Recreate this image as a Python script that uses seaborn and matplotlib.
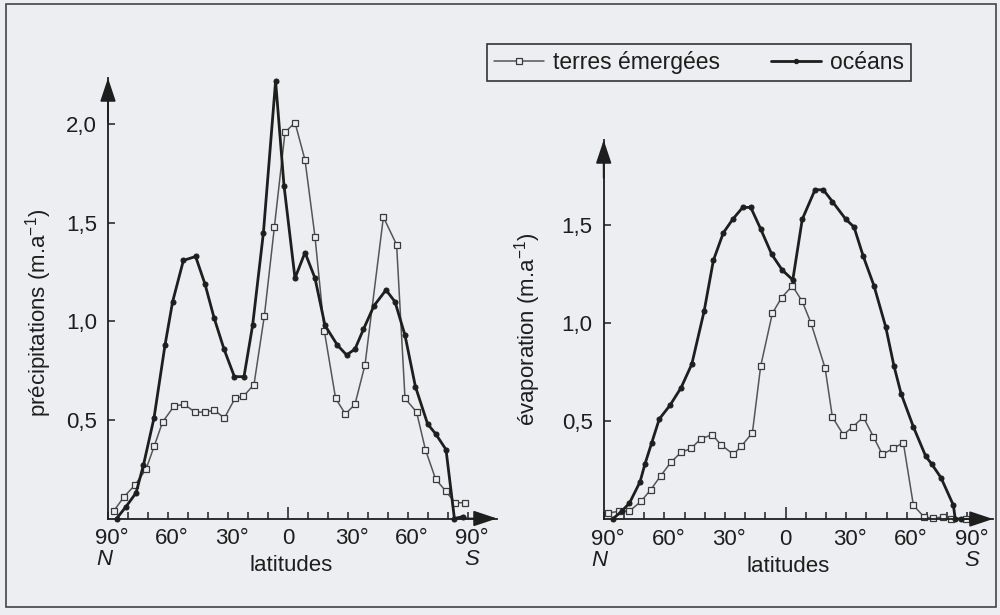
import numpy as np
import pandas as pd
import matplotlib
matplotlib.use("Agg")
import matplotlib.pyplot as plt
import matplotlib.transforms as mtransforms
from matplotlib.lines import Line2D
from matplotlib.patches import Rectangle
import seaborn as sns

# ---------------- data (latitude: negative = North, positive = South) ----------------
prec_land_lat = [-87, -82, -76.5, -71, -66.8, -62.7, -57, -52, -46.5, -41.5, -36.8, -31.8,
                 -26.5, -22.3, -17, -11.8, -6.8, -1.5, 3.5, 8.5, 13.5, 18.2, 23.8, 28.7,
                 33.5, 38.5, 47.7, 54.3, 58.5, 64.3, 68.7, 73.8, 78.8, 83.5, 88.7]
prec_land_val = [0.04, 0.11, 0.17, 0.25, 0.37, 0.49, 0.57, 0.58, 0.54, 0.54, 0.55, 0.51,
                 0.61, 0.62, 0.68, 1.03, 1.48, 1.96, 2.01, 1.82, 1.43, 0.95, 0.61, 0.53,
                 0.58, 0.78, 1.53, 1.39, 0.61, 0.54, 0.35, 0.20, 0.14, 0.08, 0.08]

prec_ocean_lat = [-85.7, -81, -76, -72.3, -67, -61.5, -57.7, -52.3, -46.2, -41.5, -37, -32,
                  -26.8, -22, -17.7, -12.3, -6.2, -2, 3.5, 8.5, 13.5, 18.5, 24.7, 29.3,
                  33.5, 37.7, 43, 49, 53.5, 58.5, 63.7, 69.8, 73.8, 79, 83.2, 87.7]
prec_ocean_val = [0.0, 0.06, 0.13, 0.27, 0.51, 0.88, 1.10, 1.31, 1.33, 1.19, 1.02, 0.86,
                  0.72, 0.72, 0.98, 1.45, 2.22, 1.69, 1.22, 1.35, 1.22, 0.98, 0.88, 0.83,
                  0.86, 0.96, 1.08, 1.16, 1.10, 0.93, 0.67, 0.48, 0.43, 0.35, 0.0, 0.01]

evap_land_lat = [-87.7, -82.4, -77.3, -71.5, -66.7, -61.8, -56.7, -51.7, -46.8, -41.8, -36.2,
                 -32.1, -25.8, -22, -16.4, -12.3, -6.5, -1.9, 3.4, 8.3, 12.6, 19.6, 23.2,
                 28.6, 33.3, 38.5, 43.5, 47.9, 53.4, 58.3, 63.3, 68.6, 73.2, 77.8, 82, 89.2]
evap_land_val = [0.03, 0.04, 0.04, 0.09, 0.15, 0.22, 0.29, 0.34, 0.36, 0.41, 0.43,
                 0.38, 0.33, 0.37, 0.44, 0.78, 1.05, 1.13, 1.19, 1.11, 1.00, 0.77, 0.52,
                 0.43, 0.47, 0.52, 0.42, 0.33, 0.36, 0.39, 0.07, 0.01, 0.005, 0.01, 0.0, 0.0]

evap_ocean_lat = [-85.5, -81.1, -77.3, -72, -69.6, -66.2, -62.5, -57.2, -51.7, -46.4, -40.3,
                  -35.7, -30.8, -26.1, -21.2, -17.2, -12.3, -6.8, -1.6, 3.6, 8.3, 14.6, 18.7,
                  23.2, 29.8, 33.9, 38.5, 43.8, 49.6, 53.7, 57.2, 63.3, 69.4, 72.4, 77,
                  83.1, 84, 87]
evap_ocean_val = [0.0, 0.04, 0.08, 0.19, 0.28, 0.39, 0.51, 0.58, 0.67, 0.79, 1.06,
                  1.32, 1.46, 1.53, 1.59, 1.59, 1.48, 1.35, 1.27, 1.22, 1.53, 1.68, 1.68,
                  1.62, 1.53, 1.49, 1.34, 1.19, 0.98, 0.78, 0.64, 0.47, 0.32, 0.28, 0.21,
                  0.07, 0.0, 0.0]

xtick_pos = [-90, -60, -30, 0, 30, 60, 90]
xtick_labels = ["90°", "60°", "30°", "0", "30°", "60°", "90°"]
prec_yticks = [0.5, 1.0, 1.5, 2.0]
evap_yticks = [0.5, 1.0, 1.5]
series_labels = ["terres émergées", "océans"]

# ---------------- style ----------------
sns.set_theme(style="white")
plt.rcParams["font.family"] = ["Liberation Sans", "DejaVu Sans"]
plt.rcParams["mathtext.default"] = "regular"
BG = "#eceef2"
INK = "#1e1e1e"
LAND = "#555555"

fig = plt.figure(figsize=(10, 6.15), dpi=100, facecolor=BG)


def px_axes(x0, x1, y_top, y_bot):
    return fig.add_axes([x0 / 1000, (615 - y_bot) / 615, (x1 - x0) / 1000, (y_bot - y_top) / 615])


axL = px_axes(108, 497, 78, 518.5)
axR = px_axes(603.7, 993, 140, 519)

land_kw = dict(color=LAND, lw=1.1, marker="s", markersize=4.6, markerfacecolor=BG,
               markeredgecolor="#3a3a3a", markeredgewidth=0.9, clip_on=False)
ocean_kw = dict(color=INK, lw=2.0, marker="o", markersize=3.6, markerfacecolor=INK,
                markeredgecolor=INK, clip_on=False)


def draw(ax, land_lat, land_val, ocean_lat, ocean_val, xmax, ymax, yticks, ylabel, lab_x, lab_y):
    ax.set_facecolor(BG)
    sns.lineplot(x=land_lat, y=land_val, ax=ax, sort=False, estimator=None, legend=False, **land_kw)
    sns.lineplot(x=ocean_lat, y=ocean_val, ax=ax, sort=False, estimator=None, legend=False, **ocean_kw)
    ax.set_xlim(-90, xmax)
    ax.set_ylim(0, ymax)
    for s in ["top", "right"]:
        ax.spines[s].set_visible(False)
    for s in ["left", "bottom"]:
        ax.spines[s].set_color(INK)
        ax.spines[s].set_linewidth(1.3)
    # ticks
    ax.set_xticks(xtick_pos)
    ax.set_xticklabels(xtick_labels)
    ax.set_xticks(np.arange(-90, 91, 10), minor=True)
    ax.tick_params(axis="x", which="both", direction="in", length=5, width=1.1, color=INK,
                   bottom=True, pad=7, labelsize=16, labelcolor=INK)
    ax.xaxis.get_major_ticks()[3].tick1line.set_markersize(9)
    ax.set_yticks(yticks)
    ax.set_yticklabels([f"{v:.1f}".replace(".", ",") for v in yticks])
    ax.tick_params(axis="y", which="both", direction="in", length=5, width=1.1, color=INK,
                   left=True, pad=8, labelsize=16, labelcolor=INK)
    for lbl in ax.get_xticklabels():
        if "°" in lbl.get_text():
            lbl.set_transform(lbl.get_transform() + mtransforms.ScaledTranslation(4 / 100, 0, fig.dpi_scale_trans))
    ax.set_xlabel("")
    ax.set_ylabel(ylabel, fontsize=16, color=INK)
    ax.yaxis.set_label_coords(lab_x, lab_y)
    # arrows
    ap = dict(arrowstyle="-|>,head_length=0.9,head_width=0.3", color=INK, lw=1.3,
              shrinkA=0, shrinkB=0, mutation_scale=16)
    ax.annotate("", xy=(1, 0), xytext=(0.9, 0), xycoords="axes fraction", arrowprops=ap, annotation_clip=False)
    ax.annotate("", xy=(0, 1), xytext=(0, 0.9), xycoords="axes fraction", arrowprops=ap, annotation_clip=False)
    # N / S / latitudes
    tr = mtransforms.blended_transform_factory(ax.transData, ax.transAxes)
    off = lambda dy: tr + mtransforms.ScaledTranslation(0, -dy / 100, fig.dpi_scale_trans)
    ax.text(-92, 0, "N", transform=off(41), ha="center", va="center", fontsize=16,
            style="italic", color=INK)
    ax.text(92, 0, "S", transform=off(41), ha="center", va="center", fontsize=16,
            style="italic", color=INK)
    ax.text(1.5, 0, "latitudes", transform=off(47), ha="center", va="center", fontsize=16, color=INK)


draw(axL, prec_land_lat, prec_land_val, prec_ocean_lat, prec_ocean_val,
     104.5, 2.236, prec_yticks, "précipitations (m.a$^{-1}$)", -0.139, 0.466)
draw(axR, evap_land_lat, evap_land_val, evap_ocean_lat, evap_ocean_val,
     102.7, 1.934, evap_yticks, "évaporation (m.a$^{-1}$)", -0.156, 0.5)

# legend
handles = [Line2D([], [], **{k: v for k, v in land_kw.items() if k != "clip_on"}),
           Line2D([], [], **{k: v for k, v in ocean_kw.items() if k != "clip_on"})]
for h in handles:
    h.set_markersize(h.get_markersize() * 0.8)
leg = fig.legend(handles, series_labels, loc="upper left", bbox_to_anchor=(487 / 1000, 1 - 44 / 615),
                 ncol=2, frameon=True, fancybox=False, fontsize=16.5, handlelength=2.2,
                 handletextpad=0.4, columnspacing=2.2, borderpad=0.3, borderaxespad=0,
                 facecolor=BG, edgecolor="#333333", labelcolor=INK)
leg.get_frame().set_linewidth(1.2)
leg.get_frame().set_alpha(1)

# outer frame
fig.add_artist(Rectangle((6 / 1000, 8 / 615), 990 / 1000, 603 / 615, transform=fig.transFigure,
                         fill=False, edgecolor="#444444", lw=1.2))

fig.savefig("out.png", dpi=100, facecolor=BG)
